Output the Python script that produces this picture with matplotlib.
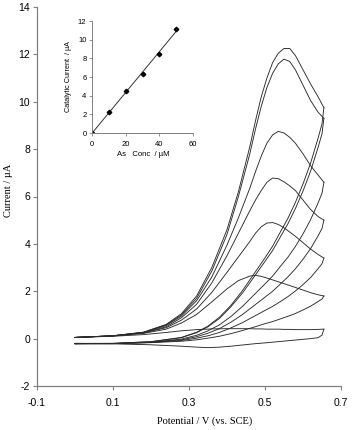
import numpy as np
import matplotlib
matplotlib.use("Agg")
import matplotlib.pyplot as plt

plt.rcParams['axes.unicode_minus'] = False
plt.rcParams['font.family'] = ['Liberation Sans', 'DejaVu Sans']

# forward scan potentials (V) shared by all CVs
V_FWD = [0.00, 0.10, 0.18, 0.24, 0.28, 0.32, 0.36, 0.40, 0.43, 0.46, 0.475,
         0.49, 0.505, 0.52, 0.535, 0.55, 0.565, 0.58, 0.60, 0.62, 0.64, 0.655]
# reverse scan potentials (V)
V_REV = [0.655, 0.65, 0.64, 0.62, 0.60, 0.58, 0.56, 0.54, 0.52, 0.50, 0.47,
         0.44, 0.41, 0.38, 0.35, 0.32, 0.28, 0.20, 0.10, 0.00]

# forward currents (uA), one list per arsenite concentration
fwd_50 = [0.05, 0.12, 0.27, 0.60, 1.05, 1.8, 3.0, 4.6, 6.2, 8.1, 9.2,
          10.2, 11.0, 11.65, 12.05, 12.25, 12.25, 11.95, 11.35, 10.75, 10.2, 9.75]
fwd_40 = [0.05, 0.12, 0.27, 0.58, 1.00, 1.7, 2.85, 4.4, 6.0, 7.8, 8.85,
          9.8, 10.6, 11.2, 11.6, 11.8, 11.7, 11.35, 10.7, 10.05, 9.55, 9.3]
fwd_30 = [0.05, 0.12, 0.26, 0.55, 0.95, 1.6, 2.6, 3.95, 5.1, 6.35, 7.05,
          7.7, 8.25, 8.6, 8.75, 8.68, 8.5, 8.25, 7.8, 7.3, 6.9, 6.6]
fwd_20 = [0.05, 0.12, 0.25, 0.50, 0.88, 1.45, 2.35, 3.5, 4.45, 5.4, 5.85,
          6.25, 6.6, 6.78, 6.75, 6.62, 6.45, 6.25, 5.85, 5.45, 5.15, 5.0]
fwd_10 = [0.05, 0.12, 0.24, 0.46, 0.78, 1.25, 1.95, 2.8, 3.45, 4.1, 4.45,
          4.72, 4.88, 4.9, 4.82, 4.68, 4.5, 4.32, 4.05, 3.78, 3.55, 3.4]
fwd_5 = [0.05, 0.11, 0.22, 0.40, 0.66, 1.02, 1.55, 2.1, 2.45, 2.64, 2.67,
         2.63, 2.56, 2.48, 2.4, 2.32, 2.24, 2.16, 2.05, 1.94, 1.85, 1.8]
fwd_0 = [0.05, 0.10, 0.17, 0.26, 0.33, 0.38, 0.41, 0.42, 0.42, 0.42, 0.41,
         0.41, 0.40, 0.40, 0.40, 0.39, 0.39, 0.38, 0.38, 0.38, 0.39, 0.40]

# reverse currents (uA)
rev_50 = [9.75, 9.07, 8.48, 7.41, 6.53, 5.75, 5.07, 4.49, 3.90, 3.41, 2.71,
          2.01, 1.40, 0.90, 0.53, 0.27, 0.05, -0.13, -0.20, -0.20]
rev_40 = [9.3, 8.65, 8.09, 7.07, 6.23, 5.49, 4.84, 4.28, 3.72, 3.26, 2.58,
          1.91, 1.34, 0.85, 0.50, 0.25, 0.04, -0.13, -0.20, -0.21]
rev_30 = [6.6, 6.14, 5.74, 5.02, 4.42, 3.89, 3.43, 3.04, 2.64, 2.31, 1.83,
          1.35, 0.93, 0.58, 0.33, 0.14, -0.02, -0.15, -0.21, -0.21]
rev_20 = [5.0, 4.65, 4.35, 3.80, 3.35, 2.95, 2.60, 2.30, 2.00, 1.75, 1.38,
          1.01, 0.69, 0.42, 0.23, 0.08, -0.05, -0.16, -0.21, -0.21]
rev_10 = [3.4, 3.16, 2.96, 2.58, 2.28, 2.01, 1.77, 1.56, 1.36, 1.19, 0.93,
          0.67, 0.45, 0.26, 0.12, 0.02, -0.08, -0.16, -0.21, -0.22]
rev_5 = [1.8, 1.67, 1.57, 1.37, 1.21, 1.06, 0.94, 0.83, 0.72, 0.63, 0.48,
         0.34, 0.21, 0.10, 0.02, -0.05, -0.11, -0.17, -0.21, -0.22]
rev_0 = [0.40, 0.15, 0.04, 0.00, -0.03, -0.06, -0.09, -0.12, -0.15, -0.18, -0.22,
         -0.27, -0.32, -0.36, -0.38, -0.36, -0.32, -0.26, -0.22, -0.20]

FWD = [fwd_50, fwd_40, fwd_30, fwd_20, fwd_10, fwd_5, fwd_0]
REV = [rev_50, rev_40, rev_30, rev_20, rev_10, rev_5, rev_0]

# inset: calibration
conc = [0, 10, 20, 30, 40, 50]
cat_current = [0.0, 2.2, 4.45, 6.35, 8.45, 11.15]

W, H = 354, 430
fig = plt.figure(figsize=(W / 100, H / 100), dpi=100)

# main axes
ax = fig.add_axes([37 / W, 1 - 386 / H, 304 / W, (386 - 7) / H])
for f, r in zip(FWD, REV):
    ax.plot(V_FWD, f, color='#2a2a2a', lw=0.65)
    ax.plot(V_REV, r, color='#2a2a2a', lw=0.65)

ax.set_xlim(-0.1, 0.7)
ax.set_ylim(-2, 14)
ax.set_xticks([-0.1, 0.1, 0.3, 0.5, 0.7])
ax.set_xticklabels(['-0.1', '0.1', '0.3', '0.5', '0.7'])
ax.set_yticks(range(-2, 15, 2))
for s in ['top', 'right']:
    ax.spines[s].set_visible(False)
for s in ['left', 'bottom']:
    ax.spines[s].set_color('#808080')
    ax.spines[s].set_linewidth(0.9)
ax.tick_params(axis='both', colors='#808080', labelcolor='black', labelsize=7.5,
               length=3, width=0.8, direction='out')
ax.tick_params(axis='x', pad=6)
ax.tick_params(axis='y', pad=2)

fig.text(205 / W, 1 - 421 / H, 'Potential / V (vs. SCE)', ha='center', va='center',
         fontsize=7.5, family=['Liberation Serif', 'DejaVu Serif'])
fig.text(9 / W, 1 - 190 / H, 'Current / µA', ha='center', va='center', rotation=90,
         fontsize=7.5, family=['Liberation Serif', 'DejaVu Serif'])

# inset
ins = fig.add_axes([92 / W, 1 - 133 / H, 101 / W, 112 / H])
slope, icpt = np.polyfit(conc, cat_current, 1)
fit_x = np.array([conc[0], conc[-1]])
ins.plot(fit_x, slope * fit_x + icpt, color='#333333', lw=0.7)
ins.plot(conc, cat_current, ls='none', marker='D', ms=2.3, color='black')
ins.set_xlim(0, 60)
ins.set_ylim(0, 12)
ins.set_xticks([0, 20, 40, 60])
ins.set_yticks(range(0, 13, 2))
for s in ['top', 'right']:
    ins.spines[s].set_visible(False)
for s in ['left', 'bottom']:
    ins.spines[s].set_color('#808080')
    ins.spines[s].set_linewidth(0.7)
ins.tick_params(axis='both', colors='#808080', labelcolor='black', labelsize=5.5,
                length=2, width=0.6, direction='out')
ins.tick_params(axis='x', pad=4)
ins.tick_params(axis='y', pad=2)
ins.patch.set_alpha(0)

fig.text(143 / W, 1 - 155 / H, 'As   Conc  / µM', ha='center', va='center', fontsize=5.5)
fig.text(68 / W, 1 - 76 / H, 'Catalytic Current  / µA', ha='center', va='center',
         rotation=90, fontsize=5.2)

fig.savefig('out.png', dpi=100)
